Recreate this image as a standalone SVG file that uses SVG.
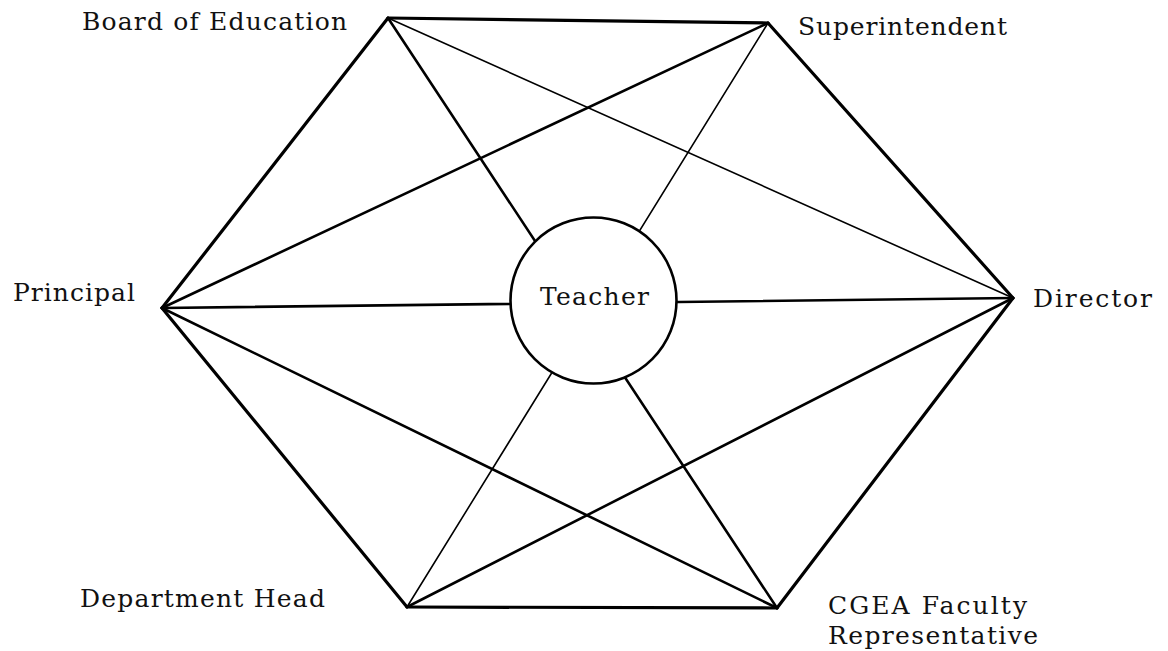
<svg xmlns="http://www.w3.org/2000/svg" width="1168" height="651" viewBox="0 0 1168 651">
<style>
.lbl{font-family:"DejaVu Serif","Liberation Serif",serif;font-size:25px;fill:#111}
.edge{stroke:#000;stroke-width:3.2;stroke-linecap:round}
.diag{stroke:#000;stroke-width:2.6;stroke-linecap:round}
.thin{stroke:#000;stroke-width:1.6;stroke-linecap:round}
</style>
<rect width="1168" height="651" fill="#fff"/>
<g id="connectors">
<line class="edge" x1="388" y1="18" x2="768" y2="23"/>
<line class="edge" x1="768" y1="23" x2="1013" y2="298"/>
<line class="edge" x1="1013" y1="298" x2="777" y2="608"/>
<line class="edge" x1="777" y1="608" x2="407" y2="607"/>
<line class="edge" x1="407" y1="607" x2="162" y2="308"/>
<line class="edge" x1="162" y1="308" x2="388" y2="18"/>
<line class="thin" x1="388" y1="18" x2="1013" y2="298"/>
<line class="diag" x1="388" y1="18" x2="777" y2="608"/>
<line class="thin" x1="768" y1="23" x2="407" y2="607"/>
<line class="diag" x1="768" y1="23" x2="162" y2="308"/>
<line class="diag" x1="1013" y1="298" x2="407" y2="607"/>
<line class="diag" x1="1013" y1="298" x2="162" y2="308"/>
<line class="diag" x1="777" y1="608" x2="162" y2="308"/>
</g>
<g id="teacher">
<circle cx="593.5" cy="300.5" r="83" fill="#fff" stroke="#000" stroke-width="2.6"/>
<text class="lbl" x="540" y="305" textLength="109" lengthAdjust="spacing">Teacher</text>
</g>
<g id="board"><text class="lbl" x="82" y="30" textLength="265" lengthAdjust="spacing">Board of Education</text></g>
<g id="superintendent"><text class="lbl" x="798" y="35" textLength="209" lengthAdjust="spacing">Superintendent</text></g>
<g id="principal"><text class="lbl" x="13" y="301" textLength="122" lengthAdjust="spacing">Principal</text></g>
<g id="director"><text class="lbl" x="1033" y="307" textLength="119" lengthAdjust="spacing">Director</text></g>
<g id="depthead"><text class="lbl" x="80" y="607" textLength="245" lengthAdjust="spacing">Department Head</text></g>
<g id="cgea">
<text class="lbl" x="828" y="614" textLength="199" lengthAdjust="spacing">CGEA Faculty</text>
<text class="lbl" x="828" y="644" textLength="210" lengthAdjust="spacing">Representative</text>
</g>
</svg>
